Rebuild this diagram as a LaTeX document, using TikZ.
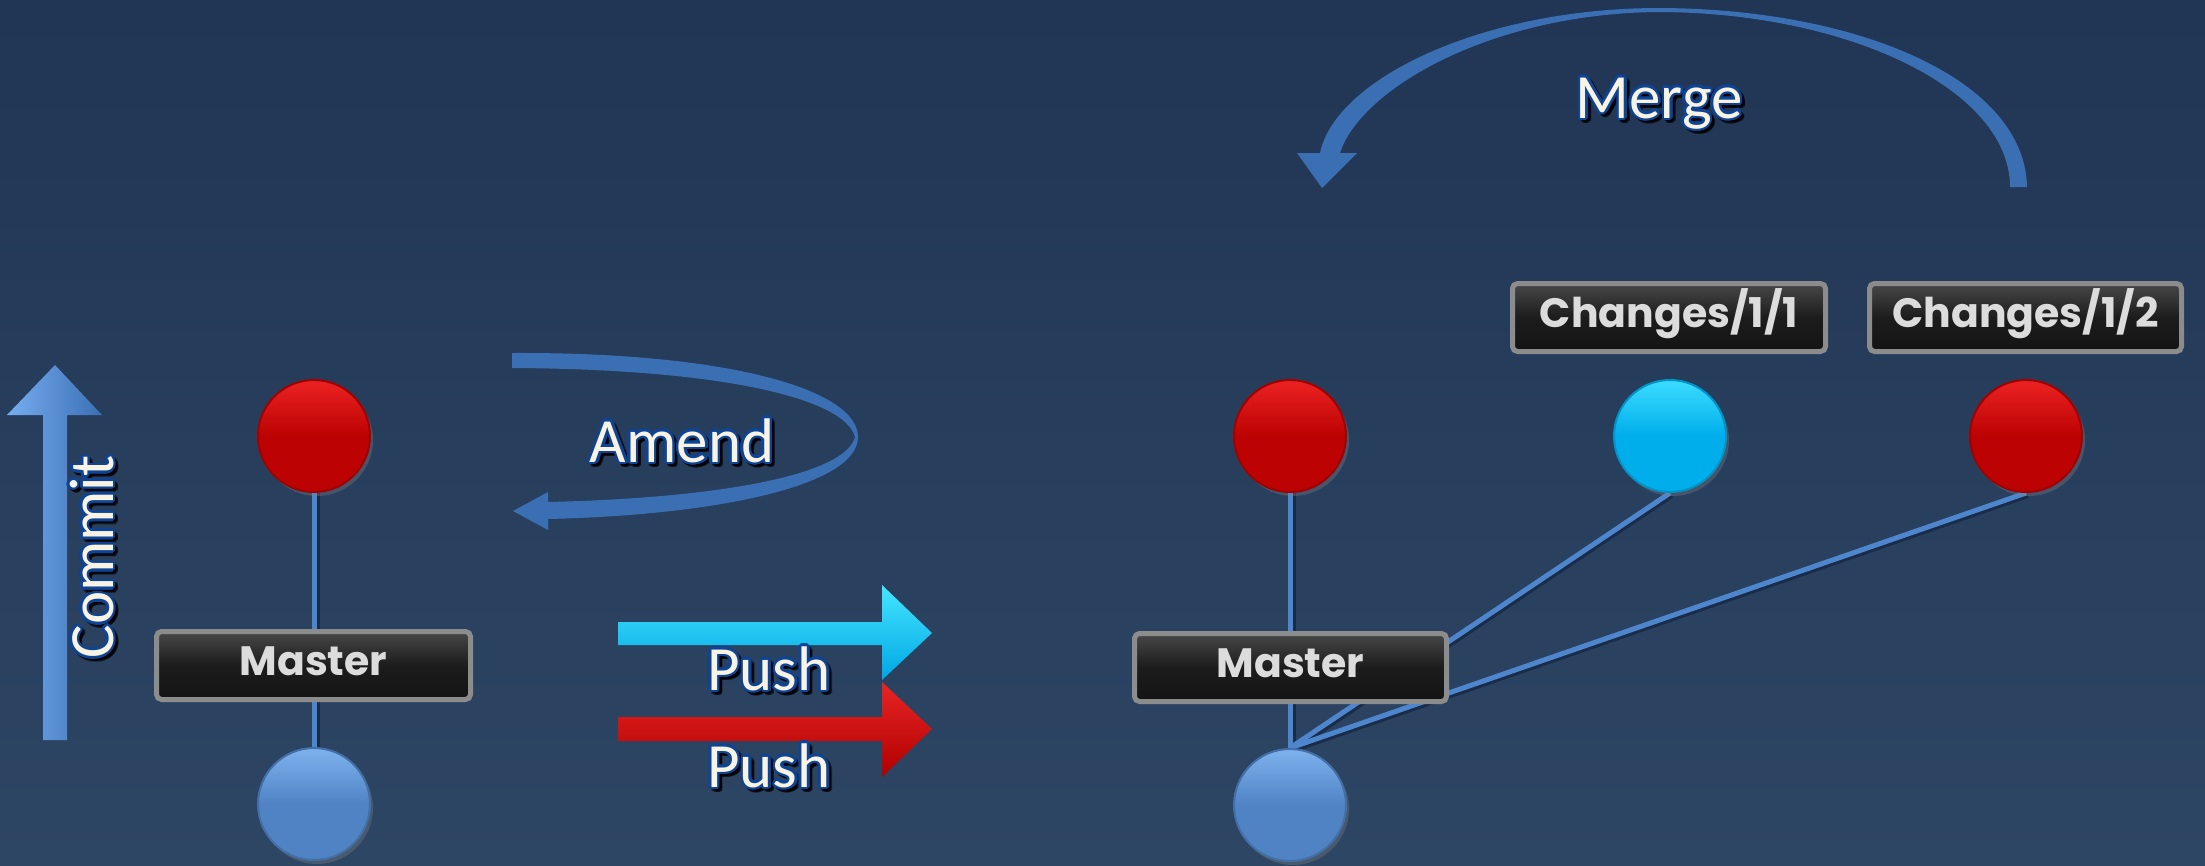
\documentclass[tikz,border=0pt]{standalone}
\usepackage{fontspec}
\usepackage[copies]{contour}
\usetikzlibrary{shadows}
\newfontfamily\carlitofont{Carlito}
\newfontfamily\popfont{Poppins}
\definecolor{bgtop}{HTML}{213554}
\definecolor{bgbot}{HTML}{2D4664}
\definecolor{arrowblue}{HTML}{3B6FB4}
\definecolor{arrowlight}{HTML}{76AEF0}
\definecolor{cream}{HTML}{F8F3E3}
\definecolor{outl}{HTML}{0F4393}
\definecolor{ballred}{HTML}{BC0202}
\definecolor{ballredtop}{HTML}{EC2222}
\definecolor{ballcyan}{HTML}{00AEEC}
\definecolor{ballcyantop}{HTML}{3CDCFF}
\definecolor{ballblue}{HTML}{4F83C4}
\definecolor{ballbluetop}{HTML}{7EB2EE}
\definecolor{linkblue}{HTML}{4E86CE}
\definecolor{linkdark}{HTML}{1A2C48}
\definecolor{boxborder}{HTML}{8C8C8C}
\definecolor{boxtop}{HTML}{484848}
\definecolor{boxmid}{HTML}{1C1C1C}
\definecolor{boxbot}{HTML}{141414}
\definecolor{boxtext}{HTML}{DCDCDC}
\definecolor{cyanlight}{HTML}{44E6FF}
\definecolor{cyanmain}{HTML}{00A6E4}
\definecolor{redlight}{HTML}{E82424}
\definecolor{redmain}{HTML}{B00000}
\pgfdeclarelayer{bg}\pgfdeclarelayer{links}\pgfsetlayers{bg,links,main}
\contourlength{2.6pt}
\begin{document}
\begin{tikzpicture}[x=1pt,y=-1pt,
  ball/.style={circle, inner sep=0pt, minimum size=112pt, line width=2pt,
    drop shadow={opacity=0.35, shadow xshift=3pt, shadow yshift=-4pt}},
  redball/.style={ball, top color=ballredtop, bottom color=ballred, middle color=ballred, draw=ballred!85!black},
  cyanball/.style={ball, top color=ballcyantop, bottom color=ballcyan, middle color=ballcyan, draw=ballcyan!85!black},
  blueball/.style={ball, top color=ballbluetop, bottom color=ballblue, middle color=ballblue, draw=ballblue!85!black},
  tag/.style={rectangle, rounded corners=5pt, draw=boxborder, line width=5pt,
    top color=boxtop, bottom color=boxbot, middle color=boxmid,
    minimum height=68pt, text=boxtext, inner sep=0pt, text height=20pt, text depth=0pt,
    font=\popfont\bfseries\fontsize{41}{48}\selectfont},
  lbl/.style={inner sep=0pt, anchor=base, text=cream,
    font=\carlitofont\fontsize{63}{70}\selectfont},
  lblshadow/.style={lbl, text=black, opacity=0.35},
  link/.style={draw=linkblue, line width=5pt},
  linkshadow/.style={draw=linkdark, line width=4pt},
  bluearrow/.style={fill=arrowblue}
]
\useasboundingbox (0,0) rectangle (2205,865);
\begin{pgfonlayer}{bg}
\shade[top color=bgtop, bottom color=bgbot] (0,0) rectangle (2205,865);
\end{pgfonlayer}

% ---- left commit arrow
\shade[left color=arrowlight, right color=arrowblue]
  (43,740) -- (43,415) -- (7,415) -- (55,365) -- (102,415) -- (67,415) -- (67,740) -- cycle;
\node[lblshadow, rotate=90] (commitsh) at (116,560) {\contour{black}{Commit}};
\node[lbl, rotate=90] (commit) at (113,557) {\contour{outl}{Commit}};

% ---- left graph
\node[redball] (r1) at (314,436) {};
\node[blueball] (b1) at (314,804) {};
\node[tag, minimum width=314pt] (m1) at (313.5,665.5) {Master};

% ---- amend arrow
\fill[bluearrow] (512,353) .. controls (730,352) and (858,390) .. (858,437)
  .. controls (858,485) and (720,515) .. (548,519)
  -- (548,530) -- (513,511) -- (548,492) -- (548,502)
  .. controls (720,498) and (845,475) .. (855,437)
  .. controls (845,398) and (720,369) .. (512,368) -- cycle;
\node[lblshadow] (amendsh) at (685,465) {\contour{black}{Amend}};
\node[lbl] (amend) at (682,462) {\contour{outl}{Amend}};

% ---- push arrows
\shade[top color=cyanlight, bottom color=cyanmain]
  (618,622) -- (882,622) -- (882,585) -- (932,633) -- (882,680) -- (882,645) -- (618,645) -- cycle;
\shade[top color=redlight, bottom color=redmain]
  (618,717) -- (882,717) -- (882,682) -- (932,729) -- (882,777) -- (882,741) -- (618,741) -- cycle;
\node[lblshadow] (push1sh) at (772,693) {\contour{black}{Push}};
\node[lbl] (push1) at (769,690) {\contour{outl}{Push}};
\node[lblshadow] (push2sh) at (772,790) {\contour{black}{Push}};
\node[lbl] (push2) at (769,787) {\contour{outl}{Push}};

% ---- right graph
\node[redball] (r2) at (1290,436) {};
\node[cyanball] (c2) at (1670,436) {};
\node[redball] (r3) at (2026,436) {};
\node[blueball] (b2) at (1290,805) {};
\node[tag, minimum width=312pt] (m2) at (1290.5,667.5) {Master};
\node[tag, minimum width=313pt] (ch11) at (1669,317.5) {Changes/1/1};
\node[tag, minimum width=312pt] (ch12) at (2025.5,317.5) {Changes/1/2};

% ---- links
\begin{pgfonlayer}{links}
\draw[linkshadow] ([xshift=4pt]r1.south) -- ([xshift=4pt]b1.north);
\draw[link] (r1.south) -- (b1.north);
\draw[linkshadow] ([xshift=4pt]r2.south) -- ([xshift=4pt]b2.north);
\draw[link] (r2.south) -- (b2.north);
\draw[linkshadow] ([xshift=2pt,yshift=-3pt]b2.north) -- ([xshift=2pt,yshift=-3pt]c2.south);
\draw[link] (b2.north) -- (c2.south);
\draw[linkshadow] ([xshift=2pt,yshift=-3pt]b2.north) -- ([xshift=2pt,yshift=-3pt]r3.south);
\draw[link] (b2.north) -- (r3.south);
\end{pgfonlayer}

% ---- merge arrow
\fill[bluearrow] (2010,187) -- (2027,187)
  .. controls (2025,80) and (1860,9) .. (1660,8)
  .. controls (1480,8) and (1335,80) .. (1320,153)
  -- (1297,153) -- (1322,188) -- (1357,153) -- (1340,153)
  .. controls (1360,90) and (1490,13) .. (1660,12)
  .. controls (1850,13) and (2010,90) .. (2010,187) -- cycle;
\node[lblshadow] (mergesh) at (1662,121) {\contour{black}{Merge}};
\node[lbl] (merge) at (1659,118) {\contour{outl}{Merge}};
\end{tikzpicture}
\end{document}
